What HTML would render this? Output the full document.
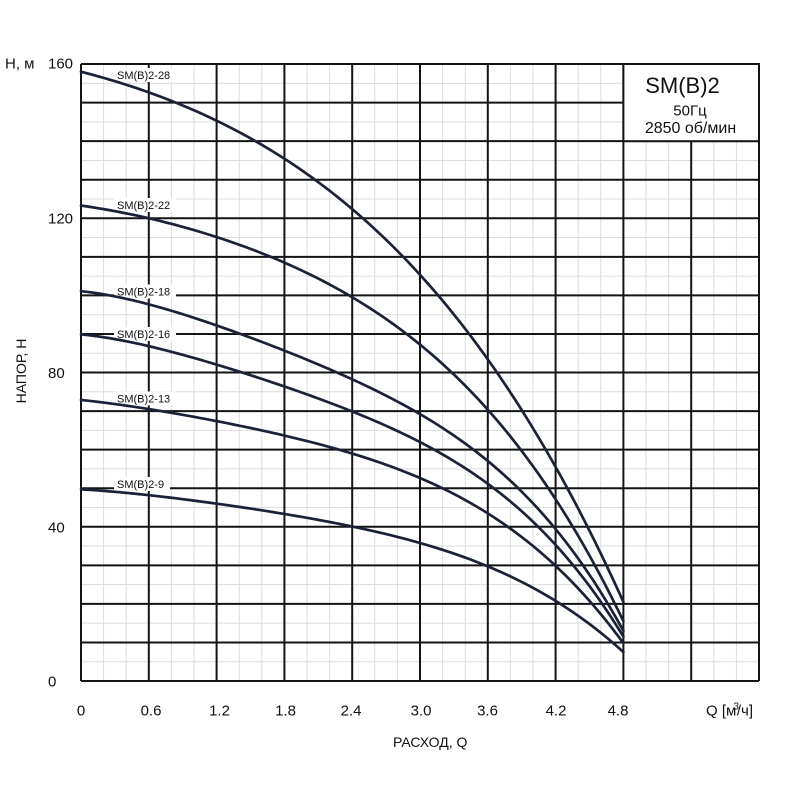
<!DOCTYPE html>
<html>
<head>
<meta charset="utf-8">
<style>
  html, body { margin:0; padding:0; background:#fff; }
  svg { display:block; }
  text { font-family: "Liberation Sans", "DejaVu Sans", sans-serif; fill:#111; }
</style>
</head>
<body>
<svg id="chart" width="800" height="800" viewBox="0 0 800 800" xmlns="http://www.w3.org/2000/svg">
  <rect x="0" y="0" width="800" height="800" fill="#fff"/>

  <!-- minor grid -->
  <path fill="none" stroke="#dcdcdc" stroke-width="1" d="
    M103.6,64V681 M126.2,64V681 M171.4,64V681 M194,64V681 M239.2,64V681 M261.8,64V681
    M307,64V681 M329.6,64V681 M374.8,64V681 M397.4,64V681 M442.6,64V681 M465.2,64V681
    M510.4,64V681 M533,64V681 M578.2,64V681 M600.8,64V681 M646,64V681 M668.6,64V681
    M713.8,64V681 M736.4,64V681
    M81,661.72H759 M81,623.16H759 M81,584.6H759 M81,546.04H759 M81,507.48H759 M81,468.92H759
    M81,430.36H759 M81,391.8H759 M81,353.24H759 M81,314.68H759 M81,276.12H759 M81,237.56H759
    M81,199H759 M81,160.44H759 M81,121.88H759 M81,83.32H759"/>

  <!-- major grid -->
  <path fill="none" stroke="#141414" stroke-width="2" d="
    M81,64V681 M148.8,64V681 M216.6,64V681 M284.4,64V681 M352.2,64V681 M420,64V681
    M487.8,64V681 M555.6,64V681 M623.4,64V681 M691.2,64V681 M759,64V681
    M81,681H759 M81,642.44H759 M81,603.88H759 M81,565.32H759 M81,526.76H759 M81,488.2H759
    M81,449.64H759 M81,411.08H759 M81,372.52H759 M81,333.96H759 M81,295.4H759 M81,256.84H759
    M81,218.28H759 M81,179.72H759 M81,141.16H759 M81,102.6H759 M81,64.04H759"/>

  <!-- title box -->
  <rect x="623.4" y="64" width="135.6" height="77.2" fill="#fff" stroke="#141414" stroke-width="2"/>
  <text x="682.5" y="93" font-size="22" text-anchor="middle">SM(B)2</text>
  <text x="690" y="115.5" font-size="15" text-anchor="middle">50Гц</text>
  <text x="690.5" y="133" font-size="16" text-anchor="middle">2850 об/мин</text>

  <!-- label backgrounds -->
  <g fill="#fff">
    <rect x="114" y="68" width="62" height="14"/>
    <rect x="114" y="198" width="62" height="14"/>
    <rect x="114" y="284.5" width="62" height="14"/>
    <rect x="114" y="327" width="62" height="14"/>
    <rect x="114" y="391.5" width="62" height="14"/>
    <rect x="114" y="477" width="56" height="14"/>
  </g>

  <!-- curves (fallback polylines; replaced by smooth fitted paths via script) -->
  <g id="curves" fill="none" stroke="#1b2238" stroke-width="2.7" stroke-linejoin="round" stroke-linecap="round">
    <polyline points="81,71.8 114.9,79.2 148.8,91.8 182.7,105.3 216.6,121.1 250.5,138.1 284.4,156.6 318.3,181.6 352.2,209 386.1,240.6 420,275 453.9,313.9 487.8,357.1 510.4,389.9 533,428.4 555.6,466.6 578.2,509.4 600.8,553.8 623.4,602"/>
    <polyline points="81,205.6 114.9,210.6 148.8,218.3 182.7,227.1 216.6,237.9 250.5,249.1 284.4,261.9 318.3,278 352.2,296.9 386.1,318.5 420,342.8 453.9,375.2 487.8,411.9 521.7,451.6 555.6,495.1 578.2,532.5 600.8,575 623.4,621.2"/>
    <polyline points="81,291.2 114.9,297.3 148.8,305 182.7,314.7 216.6,325.9 250.5,337.4 284.4,350.2 318.3,362.9 352.2,376.8 386.1,395.7 420,416.9 453.9,438.8 487.8,463.1 521.7,492.1 555.6,526.8 578.2,555.7 600.8,590.4 623.4,630.9"/>
    <polyline points="81,334.3 114.9,339.7 148.8,346.7 182.7,354.8 216.6,364.4 250.5,375.2 284.4,386.8 318.3,398 352.2,409.9 386.1,425.7 420,443.1 453.9,462.4 487.8,484.3 521.7,511.3 555.6,543.3 578.2,569.2 600.8,600 623.4,636.7"/>
    <polyline points="81,399.9 114.9,404.1 148.8,409.9 182.7,414.9 216.6,420.7 250.5,427.7 284.4,435 318.3,443.9 352.2,453.5 386.1,465.1 420,478.9 453.9,494 487.8,512.1 521.7,536.4 555.6,565.3 578.2,586.5 600.8,613.5 623.4,643.2"/>
    <polyline points="81,489.4 114.9,491.7 148.8,495.1 182.7,499 216.6,503.2 250.5,508.6 284.4,514.4 318.3,520.2 352.2,526.8 386.1,534.5 420,543 453.9,553.4 487.8,565.3 521.7,581.5 555.6,602 578.2,617.4 600.8,634 623.4,652.1"/>
  </g>

  <!-- curve labels -->
  <g font-size="11" fill="#222">
    <text x="117" y="79">SM(B)2-28</text>
    <text x="117" y="209">SM(B)2-22</text>
    <text x="117" y="295.5">SM(B)2-18</text>
    <text x="117" y="338">SM(B)2-16</text>
    <text x="117" y="402.5">SM(B)2-13</text>
    <text x="117" y="488">SM(B)2-9</text>
  </g>

  <!-- y axis labels -->
  <text x="5" y="68.5" font-size="15">H, м</text>
  <g font-size="15">
    <text x="48" y="68.5">160</text>
    <text x="48" y="223.5">120</text>
    <text x="48" y="378">80</text>
    <text x="48" y="532.5">40</text>
    <text x="48" y="686.5">0</text>
  </g>
  <text transform="translate(26,371) rotate(-90)" font-size="14" text-anchor="middle">НАПОР, Н</text>

  <!-- x axis labels -->
  <g font-size="15" text-anchor="middle">
    <text x="81" y="715.5">0</text>
    <text x="151" y="715.5">0.6</text>
    <text x="219.5" y="715.5">1.2</text>
    <text x="285.5" y="715.5">1.8</text>
    <text x="351" y="715.5">2.4</text>
    <text x="421" y="715.5">3.0</text>
    <text x="487.5" y="715.5">3.6</text>
    <text x="556" y="715.5">4.2</text>
    <text x="618" y="715.5">4.8</text>
  </g>
  <text x="706" y="715.5" font-size="15">Q [м<tspan font-size="10" dy="-6" dx="-3">3</tspan><tspan dy="6" dx="-2">/ч]</tspan></text>
  <text x="393" y="747" font-size="14">РАСХОД, Q</text>
</svg>
<script>
(function(){
  var ns = "http://www.w3.org/2000/svg";
  var data = [
    [[0,158],[0.6,152.8],[1.2,145.2],[1.5,140.8],[2.38,122.7],[3.0,105.3],[3.6,84],[3.73,78],[4.0,65],[4.2,55.6],[4.475,40.2],[4.8,20.5]],
    [[0,123.3],[0.6,120],[1.2,114.9],[1.8,108.7],[2.4,99.6],[3.0,87.7],[3.43,75.5],[3.6,69.8],[3.74,65],[4.2,48.2],[4.8,15.5]],
    [[0,101.1],[0.6,97.5],[1.2,92.1],[1.8,85.8],[2.4,78.9],[3.0,68.5],[3.54,58.2],[4.2,40],[4.8,13]],
    [[0,89.9],[0.6,86.7],[1.2,82.1],[1.8,76.3],[2.4,70.3],[3.0,61.7],[3.54,52.1],[4.2,35.7],[4.8,11.5]],
    [[0,72.9],[0.6,70.3],[1.2,67.5],[1.8,63.8],[2.4,59],[3.0,52.4],[3.54,44.6],[4.2,30],[4.8,9.8]],
    [[0,49.7],[0.6,48.2],[1.2,46.1],[1.8,43.2],[2.4,40],[3.0,35.8],[3.6,30],[4.2,20.5],[4.8,7.5]]
  ];
  function solve(M, v){
    var n = v.length, i, j, k;
    for (i = 0; i < n; i++) {
      var p = i;
      for (j = i + 1; j < n; j++) if (Math.abs(M[j][i]) > Math.abs(M[p][i])) p = j;
      var t = M[i]; M[i] = M[p]; M[p] = t; t = v[i]; v[i] = v[p]; v[p] = t;
      for (j = i + 1; j < n; j++) {
        var f = M[j][i] / M[i][i];
        for (k = i; k < n; k++) M[j][k] -= f * M[i][k];
        v[j] -= f * v[i];
      }
    }
    var x = new Array(n);
    for (i = n - 1; i >= 0; i--) {
      var s = v[i];
      for (k = i + 1; k < n; k++) s -= M[i][k] * x[k];
      x[i] = s / M[i][i];
    }
    return x;
  }
  function fit(pts, deg){
    var n = deg + 1, M = [], v = [], i, j, k;
    for (i = 0; i < n; i++) { M.push(new Array(n).fill(0)); v.push(0); }
    pts.forEach(function(p, idx){
      var t = p[0] / 4.8, w = (idx === 0 || idx === pts.length - 1) ? 20 : 1;
      var phi = [];
      for (k = 0; k < n; k++) phi.push(Math.pow(t, k));
      for (i = 0; i < n; i++) {
        for (j = 0; j < n; j++) M[i][j] += w * phi[i] * phi[j];
        v[i] += w * phi[i] * p[1];
      }
    });
    return solve(M, v);
  }
  try {
    var g = document.getElementById("curves");
    var d0 = [];
    data.forEach(function(pts){
      var c = fit(pts, 4);
      var d = "";
      for (var s = 0; s <= 96; s++) {
        var q = s * 0.05, t = q / 4.8, h = 0;
        for (var k = 0; k < c.length; k++) h += c[k] * Math.pow(t, k);
        var x = 81 + 113 * q, y = 681 - 3.856 * h;
        d += (s === 0 ? "M" : " L") + x.toFixed(2) + "," + y.toFixed(2);
      }
      d0.push(d);
    });
    var pls = Array.prototype.slice.call(g.getElementsByTagName("polyline"));
    pls.forEach(function(pl, i){
      var path = document.createElementNS(ns, "path");
      path.setAttribute("d", d0[i]);
      g.replaceChild(path, pl);
    });
  } catch (e) {}
})();
</script>
</body>
</html>
